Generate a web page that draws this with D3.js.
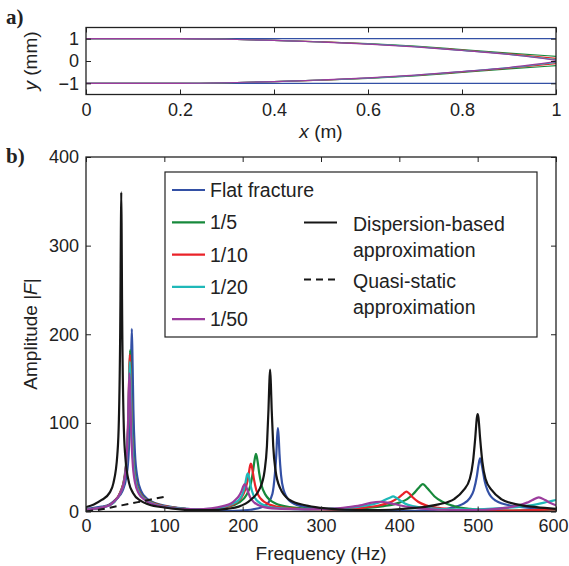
<!DOCTYPE html>
<html>
<head>
<meta charset="utf-8">
<script src="https://cdn.jsdelivr.net/npm/d3@7"></script>
<style>
    body { margin: 0; background: #fff; }
    svg text { font-family: "Liberation Sans", Arial, sans-serif; fill: #222; }
    .axis path { display: none; }
    .axis line { stroke: #222; stroke-width: 1; }
</style>
</head>
<body>
<div id="chart"></div>
<script>
// panel a) aperture profiles, y (mm) along x (m)
var profileX = [0, 0.1, 0.2, 0.3, 0.4, 0.5, 0.6, 0.7, 0.8, 0.9, 1];
var profileFlat = [1, 1, 1, 1, 1, 1, 1, 1, 1, 1, 1];
var profile5 = [1, 1, 1, 0.975, 0.925, 0.86, 0.78, 0.665, 0.51, 0.355, 0.21];
var profile10 = [1, 1, 1, 0.975, 0.92, 0.855, 0.77, 0.65, 0.49, 0.32, 0.12];
var profile20 = [1, 1, 1, 0.975, 0.92, 0.85, 0.765, 0.64, 0.475, 0.3, 0.06];
var profile50 = [1, 1, 1, 0.975, 0.92, 0.85, 0.76, 0.635, 0.47, 0.29, 0.03];

// panel b) amplitude |F| vs frequency (Hz), [f, amp]
var ampFlat = [[0,3],[10,4],[20,5.5],[30,8],[38.5,14],[46.5,23],[51.5,39],[54.5,66],[56.5,115],[57.5,165],[58.5,206],[59.5,165],[60.5,115],[62.5,66],[65.5,39],[70.5,23],[78.5,14],[90,9],[110,5],[130,3],[150,1.5],[170,0.5],[190,0.8],[210,2],[225,5],[232,9],[238,20],[241,41],[243,65],[244,84],[245,94],[246,84],[247,65],[249,41],[252,25],[260,12],[275,6],[300,3],[330,1.5],[360,0.8],[400,0.5],[440,1.5],[465,4],[480,8],[490,15],[495,24],[499,40],[501,52],[503,60],[504,58],[506,49],[509,34],[513,23],[523,12.2],[543,6.5],[570,4],[600,2.5]];
var amp5 = [[0,2],[10,3],[20,4.5],[30,7.5],[36,11],[44,22],[49,38],[52,64],[54.3,109],[55.3,152],[56.3,182],[57.3,152],[58.3,109],[60.3,64],[63.3,38],[68,23],[75,15],[85,10],[100,6],[120,3.5],[140,2],[160,2.5],[180,5],[195,10],[205,19],[210,30],[213,44],[215,57],[216,62],[217,65],[218,62],[219,57],[221,44],[224,30],[229,19],[242,9],[260,5],[290,3],[320,2.5],[350,3.5],[380,6],[400,10],[410,14],[418,20],[422,24],[426,28],[430,31],[434,28],[438,24],[445,17],[455,11],[470,6],[490,3],[510,1.5],[540,1],[570,1.5],[600,2.5]];
var amp10 = [[0,2],[10,3],[20,4.5],[30,7.5],[36,11],[44,22],[49,37],[52,62],[54,106],[55,148],[56,177],[57,148],[58,106],[60,62],[63,37],[68,22],[75,14.5],[85,9.5],[100,6],[120,3.5],[140,2],[160,2.5],[175,4.5],[190,9],[198,15],[203,24],[206.5,36],[208.5,47],[209.5,52],[210.5,54],[211.5,52],[212.5,47],[214.5,36],[217.5,24],[222.5,15],[235,7.5],[255,4],[285,2.5],[320,2.5],[350,4],[375,7],[390,11],[398,15],[405,20],[409,22.5],[413,20],[417,16],[424,11],[434,7],[450,4],[475,2],[500,1],[540,1],[570,1.5],[600,2.5]];
var amp20 = [[0,2],[10,3],[20,4.5],[30,7],[36,10.5],[44,21],[49,35],[52,60],[54,101],[55,141],[56,169],[57,141],[58,101],[60,60],[63,35],[68,21],[75,14],[85,9],[100,5.5],[120,3.5],[140,2.5],[160,3],[175,5],[188,9],[195,13],[199.5,19],[202.5,28],[204.5,37],[205.5,41],[206.5,43],[207.5,41],[208.5,37],[210.5,28],[213.5,19],[218.5,12],[231,6],[250,3.5],[280,2.5],[310,3],[340,4.5],[360,7],[375,10.5],[384,14],[388,15.5],[392,17],[396,15.5],[400,13],[407,9],[417,6],[440,3.5],[470,2.5],[500,2.5],[525,3.5],[550,5],[575,8],[590,11],[600,13]];
var amp50 = [[0,2],[10,3],[20,4.5],[30,7],[35,10.5],[43.5,20],[48.5,33],[51.5,56],[53.5,95],[54.5,132],[55.5,156],[56.5,132],[57.5,95],[59.5,56],[62.5,33],[67.5,20],[75,13],[85,8.5],[100,5],[120,3],[140,2.5],[160,3.5],[175,6],[185,9],[190.5,13],[195.5,18],[198.5,23],[200.5,28],[202.5,31],[204.5,28],[206.5,23],[209.5,16],[215,10],[227,5],[250,3],[280,2.5],[310,3],[335,5],[350,7],[362,9.5],[375,11],[388,9.5],[400,7],[420,4],[450,2],[480,1.5],[510,2],[535,4],[550,6.5],[563,10],[570,13],[578,16],[586,13],[593,9.5],[600,7]];
var ampDispersion = [[0,5],[10,8],[20,13],[30,21],[35,32],[40,64],[42,104],[44,240],[44.5,315],[45,360],[45.5,315],[46,240],[48,104],[50,64],[55,32],[60,21],[70,12],[80,8],[100,4.5],[120,2.5],[140,1.5],[160,1.5],[180,3],[195,5.5],[210,13],[222,26],[228,46],[231,74],[233,116],[234,144],[235,160],[236,144],[237,116],[239,74],[242,46],[248,26],[260,13],[280,7],[300,4],[330,2],[360,1.5],[390,2],[420,4],[450,8],[470,14],[482,24],[490,37],[494,56],[497,84],[499,106],[500,110],[501,106],[503,84],[506,56],[510,37],[518,24],[530,14],[550,8],[575,5],[600,3]];
var ampQuasiStatic = [[0,0],[20,2.5],[40,6],[60,9.5],[80,13],[102,17]];

var xTicksA = [0, 0.2, 0.4, 0.6, 0.8, 1];
var yTicksA = [-1, 0, 1];
var xTicksB = [0, 100, 200, 300, 400, 500, 600];
var yTicksB = [0, 100, 200, 300, 400];

var seriesColors = {
    flat: "#3350a5",
    r5: "#17893b",
    r10: "#ea2229",
    r20: "#1fb8b8",
    r50: "#9b3c9d",
    black: "#161616"
};

var svg = d3.select("#chart")
    .append("svg")
    .attr("width", 569)
    .attr("height", 566);

var plotLeft = 86, plotRight = 556;

function drawAxes(g, xs, ys, xt, yt, top, bottom, pad) {
    var xLabels = g.append("g").attr("class", "axis")
        .attr("transform", "translate(0," + bottom + ")")
        .call(d3.axisBottom(xs).tickValues(xt).tickFormat(d3.format("")).tickSizeInner(-5).tickSizeOuter(0).tickPadding(pad))
        .selectAll("text").style("font-size", "18px").attr("fill", "#222");
    // last label sits against the page edge
    xLabels.filter(function(d, i) { return i === xt.length - 1; })
        .attr("dx", xt[xt.length - 1] >= 100 ? "-3px" : "0");
    g.append("g").attr("class", "axis")
        .attr("transform", "translate(0," + top + ")")
        .call(d3.axisTop(xs).tickValues(xt).tickFormat("").tickSizeInner(-5).tickSizeOuter(0));
    g.append("g").attr("class", "axis")
        .attr("transform", "translate(" + plotLeft + ",0)")
        .call(d3.axisLeft(ys).tickValues(yt).tickFormat(d3.format("")).tickSizeInner(-5).tickSizeOuter(0).tickPadding(7))
        .selectAll("text").style("font-size", "18px").attr("fill", "#222");
    g.append("g").attr("class", "axis")
        .attr("transform", "translate(" + plotRight + ",0)")
        .call(d3.axisRight(ys).tickValues(yt).tickFormat("").tickSizeInner(-5).tickSizeOuter(0));
    g.append("rect")
        .attr("x", plotLeft).attr("y", top)
        .attr("width", plotRight - plotLeft).attr("height", bottom - top)
        .attr("fill", "none").attr("stroke", "#222").attr("stroke-width", 1.3);
}

// ---------- panel a ----------
var xA = d3.scaleLinear().domain([0, 1]).range([plotLeft, plotRight]);
var yA = d3.scaleLinear().domain([-1.5, 1.5]).range([94.5, 27.5]);

var gA = svg.append("g");

var profileLine = d3.line()
    .x(function(d) { return xA(d[0]); })
    .y(function(d) { return yA(d[1]); })
    .curve(d3.curveMonotoneX);

var profiles = [
    { v: profileFlat, c: seriesColors.flat },
    { v: profile5, c: seriesColors.r5 },
    { v: profile10, c: seriesColors.r10 },
    { v: profile20, c: seriesColors.r20 },
    { v: profile50, c: seriesColors.r50 }
];
profiles.forEach(function(p) {
    [1, -1].forEach(function(side) {
        gA.append("path")
            .datum(profileX.map(function(x, i) { return [x, side * p.v[i]]; }))
            .attr("d", profileLine)
            .attr("fill", "none")
            .attr("stroke", p.c)
            .attr("stroke-width", 1.2);
    });
});

drawAxes(gA, xA, yA, xTicksA, yTicksA, 27.5, 94.5, 9);

gA.append("text")
    .attr("x", (plotLeft + plotRight) / 2).attr("y", 138)
    .attr("text-anchor", "middle").style("font-size", "19px")
    .html('<tspan font-style="italic">x</tspan> (m)');
gA.append("text")
    .attr("transform", "translate(37,61) rotate(-90)")
    .attr("text-anchor", "middle").style("font-size", "19px")
    .html('<tspan font-style="italic">y</tspan> (mm)');
svg.append("text")
    .attr("x", 6).attr("y", 24)
    .style("font-family", "'Liberation Serif', 'Times New Roman', serif")
    .style("font-weight", "bold").style("font-size", "21px")
    .text("a)");

// ---------- panel b ----------
var xB = d3.scaleLinear().domain([0, 600]).range([plotLeft, plotRight]);
var yB = d3.scaleLinear().domain([0, 400]).range([511.5, 157]);

var gB = svg.append("g");

svg.append("clipPath").attr("id", "clipB")
    .append("rect")
    .attr("x", plotLeft).attr("y", 157)
    .attr("width", plotRight - plotLeft).attr("height", 511.5 - 157);

var ampLine = d3.line()
    .x(function(d) { return xB(d[0]); })
    .y(function(d) { return yB(d[1]); })
    .curve(d3.curveMonotoneX);

var curves = [
    { v: ampFlat, c: seriesColors.flat },
    { v: amp5, c: seriesColors.r5 },
    { v: amp10, c: seriesColors.r10 },
    { v: amp20, c: seriesColors.r20 },
    { v: amp50, c: seriesColors.r50 },
    { v: ampDispersion, c: seriesColors.black }
];
var curveLayer = gB.append("g").attr("clip-path", "url(#clipB)");
curves.forEach(function(s) {
    curveLayer.append("path")
        .datum(s.v)
        .attr("d", ampLine)
        .attr("fill", "none")
        .attr("stroke", s.c)
        .attr("stroke-width", 2.2)
        .attr("stroke-linejoin", "round");
});
curveLayer.append("path")
    .datum(ampQuasiStatic)
    .attr("d", ampLine)
    .attr("fill", "none")
    .attr("stroke", seriesColors.black)
    .attr("stroke-width", 2)
    .attr("stroke-dasharray", "7,5");

drawAxes(gB, xB, yB, xTicksB, yTicksB, 157, 511.5, 8);

gB.append("text")
    .attr("x", (plotLeft + plotRight) / 2).attr("y", 560)
    .attr("text-anchor", "middle").style("font-size", "19px")
    .text("Frequency (Hz)");
gB.append("text")
    .attr("transform", "translate(37,334) rotate(-90)")
    .attr("text-anchor", "middle").style("font-size", "19px")
    .html('Amplitude |<tspan font-style="italic">F</tspan>|');
svg.append("text")
    .attr("x", 6).attr("y", 163)
    .style("font-family", "'Liberation Serif', 'Times New Roman', serif")
    .style("font-weight", "bold").style("font-size", "21px")
    .text("b)");

// legend
var legendLeft = 165, legendTop = 172;
var legend = gB.append("g");
legend.append("rect")
    .attr("x", legendLeft).attr("y", legendTop)
    .attr("width", 372).attr("height", 165)
    .attr("fill", "#fff").attr("stroke", "#222").attr("stroke-width", 1.2);

var legendLeftItems = [
    { label: "Flat fracture", c: seriesColors.flat },
    { label: "1/5", c: seriesColors.r5 },
    { label: "1/10", c: seriesColors.r10 },
    { label: "1/20", c: seriesColors.r20 },
    { label: "1/50", c: seriesColors.r50 }
];
legendLeftItems.forEach(function(item, i) {
    var y = 190 + i * 32.3;
    legend.append("line")
        .attr("x1", 172).attr("x2", 205).attr("y1", y).attr("y2", y)
        .attr("stroke", item.c).attr("stroke-width", 2.2);
    legend.append("text")
        .attr("x", 210).attr("y", y + 7)
        .style("font-size", "19.5px")
        .text(item.label);
});

var legendRightItems = [
    { lines: ["Dispersion-based", "approximation"], dash: null, y: 222.5 },
    { lines: ["Quasi-static", "approximation"], dash: "7,5", y: 279.5 }
];
legendRightItems.forEach(function(item) {
    legend.append("line")
        .attr("x1", 304).attr("x2", 337).attr("y1", item.y).attr("y2", item.y)
        .attr("stroke", seriesColors.black).attr("stroke-width", 2)
        .attr("stroke-dasharray", item.dash);
    item.lines.forEach(function(t, j) {
        legend.append("text")
            .attr("x", 353).attr("y", item.y + 8 + j * 26)
            .style("font-size", "19.5px")
            .text(t);
    });
});
</script>
</body>
</html>
